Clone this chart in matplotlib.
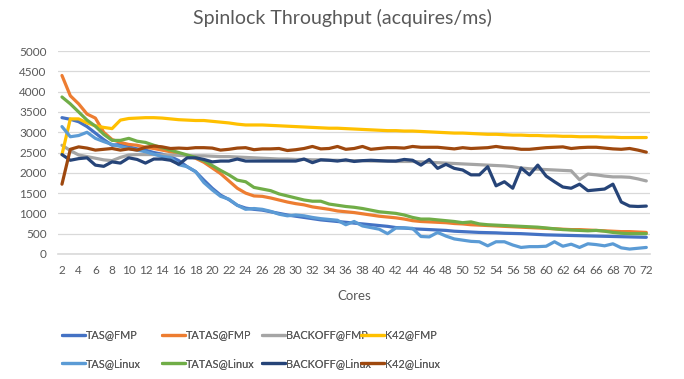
import numpy as np
import matplotlib
matplotlib.use("Agg")
import matplotlib.pyplot as plt

plt.rcParams['font.family'] = ['Lato', 'DejaVu Sans']

cores = list(range(2, 73))

tas_fmp = [3360, 3320, 3260, 3140, 2980, 2820, 2680, 2700, 2640, 2590, 2560, 2500, 2460, 2400, 2300,
           2150, 2030, 1820, 1620, 1450, 1340, 1200, 1130, 1100, 1080, 1040, 1000, 960, 930, 900,
           870, 840, 820, 800, 780, 760, 740, 720, 700, 680, 650, 640, 620, 610, 600, 590, 580,
           560, 550, 540, 530, 525, 520, 510, 505, 500, 490, 480, 470, 465, 460, 455, 450, 445,
           440, 435, 430, 425, 420, 415, 410]
tatas_fmp = [4400, 3900, 3700, 3450, 3350, 3000, 2820, 2750, 2700, 2680, 2630, 2600, 2560, 2520, 2480,
             2420, 2360, 2260, 2120, 1980, 1800, 1620, 1500, 1430, 1420, 1380, 1330, 1280, 1240, 1210,
             1160, 1130, 1100, 1060, 1040, 1020, 990, 960, 930, 910, 890, 860, 820, 800, 790, 780,
             770, 750, 740, 720, 710, 700, 690, 680, 670, 660, 650, 640, 630, 620, 610, 600, 600,
             590, 580, 570, 560, 550, 550, 540, 530]
backoff_fmp = [2680, 2550, 2440, 2400, 2360, 2320, 2300, 2380, 2440, 2450, 2450, 2450, 2440, 2440, 2430,
               2420, 2420, 2420, 2410, 2400, 2400, 2390, 2380, 2370, 2360, 2350, 2340, 2340, 2330, 2330,
               2320, 2320, 2310, 2310, 2300, 2300, 2300, 2290, 2290, 2290, 2280, 2280, 2280, 2270, 2260,
               2250, 2240, 2230, 2220, 2210, 2200, 2190, 2180, 2170, 2150, 2120, 2100, 2090, 2080, 2070,
               2060, 2050, 1830, 1970, 1950, 1920, 1900, 1900, 1890, 1850, 1800]
k42_fmp = [2450, 3330, 3330, 3230, 3160, 3120, 3090, 3300, 3340, 3350, 3360, 3360, 3350, 3330, 3310,
           3300, 3290, 3290, 3270, 3250, 3230, 3200, 3180, 3180, 3180, 3170, 3160, 3150, 3140, 3130,
           3120, 3110, 3100, 3100, 3090, 3080, 3070, 3060, 3050, 3040, 3040, 3030, 3030, 3020, 3010,
           3000, 2990, 2980, 2980, 2970, 2960, 2950, 2950, 2940, 2930, 2930, 2920, 2920, 2910, 2910,
           2900, 2900, 2890, 2890, 2890, 2880, 2880, 2870, 2870, 2870, 2870]
tas_linux = [3140, 2890, 2920, 3000, 2850, 2770, 2700, 2650, 2600, 2560, 2520, 2460, 2400, 2380, 2200,
             2150, 2030, 1760, 1580, 1420, 1350, 1200, 1100, 1120, 1100, 1050, 980, 940, 960, 940,
             900, 870, 850, 830, 720, 800, 690, 650, 610, 500, 640, 640, 630, 430, 420, 530, 440,
             370, 340, 310, 300, 200, 300, 300, 220, 160, 180, 180, 190, 300, 190, 240, 160, 250,
             230, 200, 250, 150, 120, 140, 160]
tatas_linux = [3870, 3700, 3500, 3300, 3150, 2950, 2800, 2800, 2850, 2780, 2750, 2680, 2620, 2560, 2500,
               2440, 2380, 2300, 2180, 2060, 1950, 1820, 1780, 1640, 1600, 1560, 1480, 1430, 1380, 1330,
               1300, 1300, 1230, 1200, 1170, 1150, 1120, 1080, 1040, 1020, 1000, 960, 900, 860, 860,
               840, 820, 800, 770, 790, 740, 720, 710, 700, 690, 680, 670, 660, 640, 620, 600, 590,
               580, 570, 580, 560, 530, 510, 500, 500, 500]
backoff_linux = [2450, 2310, 2350, 2370, 2190, 2160, 2270, 2240, 2370, 2330, 2240, 2340, 2340, 2310, 2210,
                 2370, 2370, 2330, 2270, 2290, 2290, 2340, 2290, 2290, 2290, 2290, 2290, 2290, 2290, 2340,
                 2250, 2320, 2310, 2290, 2320, 2280, 2300, 2310, 2300, 2290, 2290, 2330, 2310, 2190, 2330,
                 2110, 2210, 2110, 2070, 1950, 1950, 2150, 1680, 1780, 1620, 2120, 1950, 2190, 1920, 1780,
                 1650, 1620, 1720, 1560, 1580, 1600, 1720, 1280, 1180, 1170, 1180]
k42_linux = [1720, 2580, 2640, 2610, 2560, 2580, 2600, 2560, 2590, 2560, 2630, 2660, 2640, 2600, 2610,
             2600, 2620, 2620, 2610, 2560, 2580, 2610, 2620, 2570, 2590, 2590, 2600, 2550, 2570, 2600,
             2650, 2590, 2600, 2650, 2580, 2600, 2650, 2580, 2600, 2620, 2620, 2610, 2650, 2630, 2630,
             2630, 2610, 2590, 2620, 2600, 2610, 2620, 2650, 2620, 2610, 2580, 2580, 2600, 2620, 2630,
             2640, 2600, 2620, 2630, 2630, 2610, 2590, 2580, 2600, 2560, 2510]

series = [
    ("TAS@FMP", tas_fmp, "#4472C4"),
    ("TATAS@FMP", tatas_fmp, "#ED7D31"),
    ("BACKOFF@FMP", backoff_fmp, "#A5A5A5"),
    ("K42@FMP", k42_fmp, "#FFC000"),
    ("TAS@Linux", tas_linux, "#5B9BD5"),
    ("TATAS@Linux", tatas_linux, "#70AD47"),
    ("BACKOFF@Linux", backoff_linux, "#264478"),
    ("K42@Linux", k42_linux, "#9E480E"),
]

txt = "#595959"
fig = plt.figure(figsize=(6.84, 3.79), dpi=100)
ax = fig.add_axes([0.0845, 0.330, 0.8665, 0.535])

for name, vals, col in series:
    ax.plot(cores, vals, color=col, lw=2.3, solid_joinstyle="round", solid_capstyle="round", label=name)

ax.set_xlim(1.5, 72.5)
ax.set_ylim(0, 5000)
ax.set_yticks(np.arange(0, 5001, 500))
ax.set_xticks(cores[::2])
ax.grid(axis="y", color="#D9D9D9", lw=0.9)
ax.set_axisbelow(True)
for s in ["top", "right", "left"]:
    ax.spines[s].set_visible(False)
ax.spines["bottom"].set_color("#D9D9D9")
ax.spines["bottom"].set_linewidth(1.2)
ax.tick_params(length=0, labelsize=8.5, labelcolor=txt)
ax.tick_params(axis="x", pad=8)
ax.tick_params(axis="y", pad=8)

ax.set_xlabel("Cores", fontsize=9.5, color=txt, labelpad=10)
fig.text(0.5, 0.952, "Spinlock Throughput (acquires/ms)", ha="center", va="center",
         fontsize=14, color=txt)

# legend: two rows, four fixed columns like the Excel one
handles = ax.get_lines()
col_x = [0.0906, 0.237, 0.383, 0.528]
for i in range(4):
    hs = [handles[i], handles[i + 4]]
    leg = fig.legend(hs, [h.get_label() for h in hs], loc="upper left",
                     bbox_to_anchor=(col_x[i], 0.131), ncol=1, frameon=False,
                     fontsize=7.8, handlelength=2.15, handletextpad=0.05,
                     labelspacing=1.65, borderaxespad=0, borderpad=0)
    for t in leg.get_texts():
        t.set_color(txt)
    fig.add_artist(leg)

fig.savefig("out.png", dpi=100)
